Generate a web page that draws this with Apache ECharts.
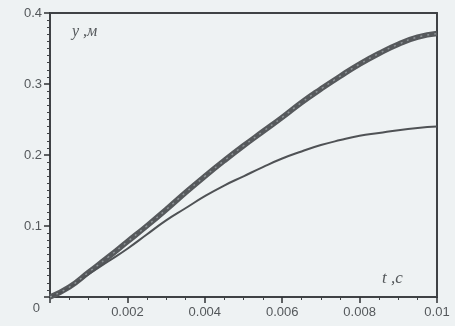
<!DOCTYPE html>
<html>
<head>
<meta charset="utf-8">
<script src="https://cdn.jsdelivr.net/npm/echarts@6/dist/echarts.min.js"></script>
<style>
  html, body { margin: 0; padding: 0; background: #eef2f3; }
  #chart { width: 455px; height: 326px; }
</style>
</head>
<body>
<div id="chart"></div>
<script>
// время, с
var tValues = [0, 0.0005, 0.001, 0.0015, 0.002, 0.0025, 0.003, 0.0035, 0.004, 0.0045, 0.005,
  0.0055, 0.006, 0.0065, 0.007, 0.0075, 0.008, 0.0085, 0.009, 0.0095, 0.01];
// толстая кривая
var yThick = [0, 0.014, 0.035, 0.056, 0.078, 0.100, 0.123, 0.147, 0.170, 0.192, 0.213,
  0.233, 0.253, 0.274, 0.293, 0.311, 0.328, 0.343, 0.356, 0.366, 0.371];
// тонкая кривая
var yThin = [0, 0.013, 0.032, 0.050, 0.068, 0.088, 0.108, 0.125, 0.142, 0.157, 0.170,
  0.183, 0.195, 0.205, 0.214, 0.221, 0.227, 0.231, 0.235, 0.238, 0.240];
var xTicks = [0, 0.002, 0.004, 0.006, 0.008, 0.01];
var yTicks = [0, 0.1, 0.2, 0.3, 0.4];

function pairs(xs, ys) {
  return xs.map(function (x, i) { return [x, ys[i]]; });
}

var myChart = echarts.init(document.getElementById('chart'));
var labelColor = '#54585b';
// невидимые линии сетки (без них засечки пропадали)
var hiddenSplit = { show: true, lineStyle: { color: 'rgba(0,0,0,0)' } };

// верхняя и правая рамка рисуются отдельными осями
function frameAxis(extra) {
  return Object.assign({
    type: 'value',
    axisLine: { show: true, onZero: false, lineStyle: { color: '#3f4245', width: 2 } },
    axisTick: { show: false },
    axisLabel: { show: false },
    splitLine: { show: false }
  }, extra);
}

var option = {
  animation: false,
  grid: { left: 50, right: 18, top: 13, bottom: 29 },
  xAxis: [{
    type: 'value', min: 0, max: 0.01, interval: 0.002,
    axisLine: { show: true, onZero: false, lineStyle: { color: '#3f4245', width: 2 } },
    axisTick: { show: true, length: 6, lineStyle: { color: '#2f3235', width: 1.5 } },
    minorTick: { show: true, splitNumber: 4, length: 3, lineStyle: { color: '#3f4245', width: 1 } },
    splitLine: hiddenSplit,
    axisLabel: {
      margin: 9, color: labelColor, fontFamily: 'Liberation Sans', fontSize: 13,
      formatter: function (v) { return v === 0 ? '' : String(+v.toFixed(3)); }
    }
  }, frameAxis({ position: 'top', min: 0, max: 0.01 })],
  yAxis: [{
    type: 'value', min: 0, max: 0.4, interval: 0.1,
    axisLine: { show: true, onZero: false, lineStyle: { color: '#3f4245', width: 2 } },
    axisTick: { show: true, length: 6, lineStyle: { color: '#2f3235', width: 1.5 } },
    minorTick: { show: true, splitNumber: 10, length: 3, lineStyle: { color: '#3f4245', width: 1 } },
    splitLine: hiddenSplit,
    axisLabel: {
      margin: 8, color: labelColor, fontFamily: 'Liberation Sans', fontSize: 13,
      formatter: function (v) { return v === 0 ? '{z|0}' : String(+v.toFixed(1)); },
      rich: { z: { padding: [22, 2, 0, 0], color: labelColor, fontFamily: 'Liberation Sans', fontSize: 13 } }
    }
  }, frameAxis({ position: 'right', min: 0, max: 0.4 })],
  graphic: [
    { type: 'text', left: 72, top: 24, style: { text: 'y ,м', font: 'italic 16px "Liberation Serif"', fill: labelColor } },
    { type: 'text', left: 382, top: 270, style: { text: 't ,с', font: 'italic 17px "Liberation Serif"', fill: labelColor } }
  ],
  series: [
    {
      type: 'line', data: pairs(tValues, yThick), smooth: true, showSymbol: false,
      lineStyle: { color: '#56595c', width: 5.5 }, z: 3
    },
    {
      type: 'line', data: pairs(tValues, yThick), smooth: true, showSymbol: false,
      lineStyle: { color: '#8d9396', width: 1.5, type: [2, 5] }, z: 4
    },
    {
      type: 'line', data: pairs(tValues, yThin), smooth: true, showSymbol: false,
      lineStyle: { color: '#4f5255', width: 2 }, z: 3
    }
  ]
};

myChart.setOption(option);
</script>
</body>
</html>
